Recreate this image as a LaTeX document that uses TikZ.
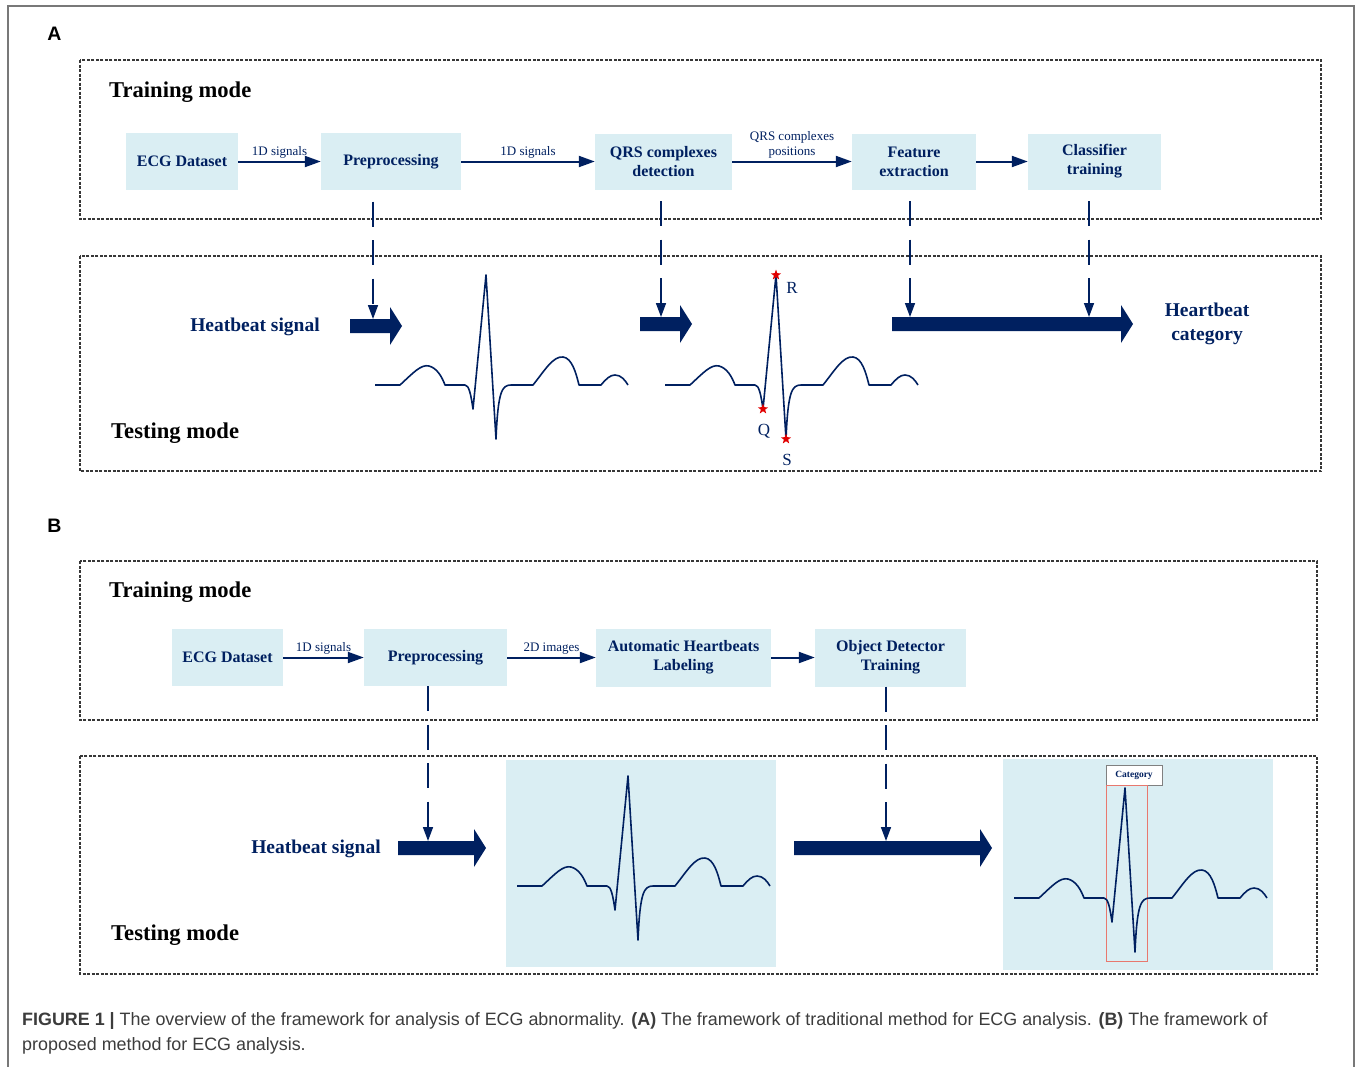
\documentclass[tikz,border=0pt]{standalone}
\usepackage{fontspec}
\setmainfont{Liberation Serif}
\setsansfont{Liberation Sans}
\usepackage{tikz}
\usetikzlibrary{positioning, arrows.meta, shapes.geometric, calc, backgrounds}
\definecolor{ecgNavy}{RGB}{0, 32, 96}
\definecolor{boxBlue}{RGB}{218, 238, 243}
\definecolor{frameGray}{RGB}{120, 120, 120}
\definecolor{modeGray}{RGB}{55, 55, 55}
\definecolor{starRed}{RGB}{225, 0, 0}
\definecolor{detRed}{RGB}{232, 120, 110}
\definecolor{capGray}{RGB}{60, 60, 60}
\newcommand{\fatarrow}[3]{\fill[ecgNavy] (#1,#3-7) -- (#2-12,#3-7) -- (#2-12,#3-19) -- (#2,#3) -- (#2-12,#3+19) -- (#2-12,#3+7) -- (#1,#3+7) -- cycle;}

\begin{document}
\begin{tikzpicture}[
    x=1pt, y=-1pt,
    stepbox/.style={
        rectangle, fill=boxBlue, text=ecgNavy, align=center, inner sep=2pt,
        font=\fontsize{16}{19}\selectfont\bfseries
    },
    flowarrow/.style={-{Triangle[length=16pt, width=11pt]}, line width=2pt, ecgNavy},
    droparrow/.style={-{Triangle[length=14pt, width=10pt]}, line width=1.6pt, ecgNavy, dash pattern=on 25pt off 13.5pt},
    edgelabel/.style={font=\fontsize{13}{15}\selectfont, text=ecgNavy, align=center, inner sep=2pt},
    modebox/.style={draw=modeGray, line width=1.3pt, dash pattern=on 3pt off 1.5pt},
    modetitle/.style={font=\fontsize{22.6}{26}\selectfont\bfseries, anchor=base west, inner sep=0pt},
    signaltext/.style={font=\fontsize{19.5}{24}\selectfont\bfseries, text=ecgNavy, align=center},
    ecgline/.style={ecgNavy, line width=1.6pt, line join=round},
    peakstar/.style={star, star points=5, star point ratio=2.5, fill=starRed, minimum size=11pt, inner sep=0pt},
    peaklabel/.style={font=\fontsize{17}{20}\selectfont, text=ecgNavy, inner sep=0pt},
    imgpanel/.style={rectangle, fill=boxBlue, inner sep=0pt},
    catbox/.style={rectangle, draw=gray, fill=white, line width=0.8pt, text=ecgNavy, minimum width=56pt, minimum height=20pt, inner sep=0pt, font=\fontsize{9.5}{11}\selectfont\bfseries},
    detbox/.style={rectangle, draw=detRed, line width=0.8pt, inner sep=0pt},
    panelletter/.style={font=\sffamily\bfseries\fontsize{19.5}{22}\selectfont},
    captext/.style={font=\sffamily\fontsize{17.9}{25}\selectfont, text=capGray, anchor=base west, inner sep=0pt},
    ecg/.pic={
        \draw[ecgline] (0,0) -- (25,0) .. controls (38,-12) and (46,-21) .. (54,-19)
            .. controls (62,-17) and (67,-8) .. (70,0) -- (90,0)
            .. controls (94,0) and (96,10) .. (98,24) -- (111,-110) -- (121,54)
            .. controls (123,6) and (127,0) .. (136,0) -- (158,0)
            .. controls (170,-15) and (178,-29) .. (188,-28)
            .. controls (197,-27) and (201,-12) .. (204,0) -- (226,0)
            .. controls (231,-6) and (235,-10) .. (240,-10)
            .. controls (246,-10) and (250,-5) .. (253,0);
        \coordinate (-Q) at (98,24);
        \coordinate (-R) at (111,-110);
        \coordinate (-S) at (121,54);
    }
]
\useasboundingbox (0,0) rectangle (1362,1066);
\draw[frameGray, line width=1.5pt] (8,1070) -- (8,6) -- (1354,6) -- (1354,1070);

\node[panelletter] (letA) at (54.5,34) {A};
\node[panelletter] (letB) at (54.5,526) {B};

\draw[modebox] (80,60) rectangle (1321,219);
\draw[modebox] (80,256) rectangle (1321,471);
\draw[modebox] (80,561) rectangle (1317,720);
\draw[modebox] (80,756) rectangle (1317,974);

\node[modetitle] (trainA) at (109,97) {Training mode};
\node[modetitle] (testA) at (111,438) {Testing mode};
\node[modetitle] (trainB) at (109,597) {Training mode};
\node[modetitle] (testB) at (111,940) {Testing mode};

\node[stepbox, minimum width=112pt, minimum height=57pt] (dataA) at (182,161.5) {ECG Dataset};
\node[stepbox, minimum width=140pt, minimum height=57pt] (prepA) at (391,161.5) {Preprocessing};
\node[stepbox, minimum width=137pt, minimum height=56pt] (qrsA) at (663.5,161.5) {QRS complexes\\detection};
\node[stepbox, minimum width=124pt, minimum height=56pt] (featA) at (914,161.5) {Feature\\extraction};
\node[stepbox, minimum width=133pt, minimum height=56pt] (clsA) at (1094.5,161.5) {Classifier\\training};

\draw[flowarrow] (dataA) -- node[edgelabel, above] {1D signals} (prepA);
\draw[flowarrow] (prepA) -- node[edgelabel, above] {1D signals} (qrsA);
\draw[flowarrow] (qrsA) -- node[edgelabel, above] {QRS complexes\\positions} (featA);
\draw[flowarrow] (featA) -- (clsA);

\fatarrow{350}{402}{326}
\fatarrow{640}{692}{324}
\fatarrow{892}{1133}{324}

\coordinate (hitA1) at (373,319);
\coordinate (hitA2) at (661,317);
\coordinate (hitA3) at (910,317);
\coordinate (hitA4) at (1089,317);
\draw[droparrow, dash phase=27pt] (prepA.south -| hitA1) -- (hitA1);
\draw[droparrow, dash phase=27pt] (qrsA.south -| hitA2) -- (hitA2);
\draw[droparrow, dash phase=27pt] (featA.south -| hitA3) -- (hitA3);
\draw[droparrow, dash phase=27pt] (clsA.south -| hitA4) -- (hitA4);

\node[signaltext] (sigtxtA) at (255,327) {Heatbeat signal};
\node[signaltext] (catA) at (1207,324) {Heartbeat\\category};

\pic (sigA1) at (375,385) {ecg};
\pic (sigA2) at (665,385) {ecg};

\node[peakstar] (starR) at (sigA2-R) {};
\node[peakstar] (starQ) at (sigA2-Q) {};
\node[peakstar] (starS) at (sigA2-S) {};
\node[peaklabel] (labR) at ($(starR)+(16,13)$) {R};
\node[peaklabel] (labQ) at ($(starQ)+(1,22)$) {Q};
\node[peaklabel] (labS) at ($(starS)+(1,21)$) {S};

\node[stepbox, minimum width=111pt, minimum height=57pt] (dataB) at (227.5,657.5) {ECG Dataset};
\node[stepbox, minimum width=143pt, minimum height=57pt] (prepB) at (435.5,657.5) {Preprocessing};
\node[stepbox, minimum width=175pt, minimum height=58pt] (autoB) at (683.5,657.5) {Automatic Heartbeats\\Labeling};
\node[stepbox, minimum width=151pt, minimum height=58pt] (objB) at (890.5,657.5) {Object Detector\\Training};

\draw[flowarrow] (dataB) -- node[edgelabel, above] {1D signals} (prepB);
\draw[flowarrow] (prepB) -- node[edgelabel, above] {2D images} (autoB);
\draw[flowarrow] (autoB) -- (objB);

\node[imgpanel, minimum width=270pt, minimum height=207pt] (imgB1) at (641,863.5) {};
\node[imgpanel, minimum width=270pt, minimum height=211pt] (imgB2) at (1138,864.5) {};

\fatarrow{398}{486}{848}
\fatarrow{794}{992}{848}

\coordinate (hitB1) at (428,841);
\coordinate (hitB2) at (886,841);
\draw[droparrow] (prepB.south -| hitB1) -- (hitB1);
\draw[droparrow] (objB.south -| hitB2) -- (hitB2);

\node[signaltext] (sigtxtB) at (316,849) {Heatbeat signal};

\node[catbox] (catB) at (1134,775) {Category};
\node[detbox, anchor=north west, minimum width=41pt, minimum height=176pt] (detB) at (catB.south west) {};

\pic (sigB1) at (517,886) {ecg};
\pic (sigB2) at (1014,898) {ecg};

\node[captext] (capl1) at (22,1025) {\textbf{FIGURE 1 |} The overview of the framework for analysis of ECG abnormality. \textbf{(A)} The framework of traditional method for ECG analysis. \textbf{(B)} The framework of};
\node[captext] (capl2) at (22,1050) {proposed method for ECG analysis.};
\end{tikzpicture}
\end{document}
